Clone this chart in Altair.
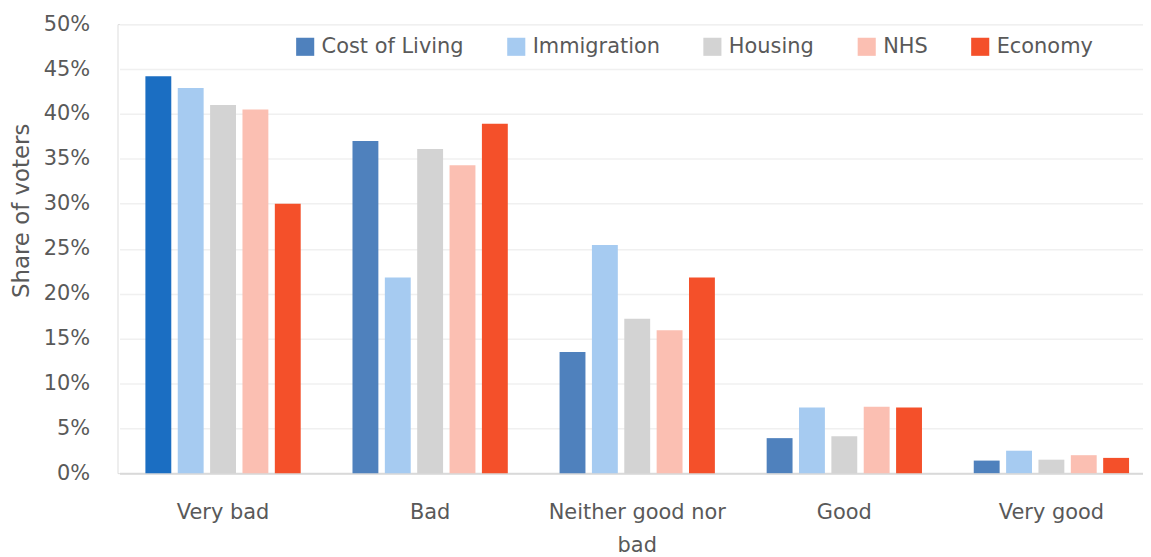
import altair as alt
import pandas as pd

categories = ["Very bad", "Bad", "Neither good nor bad", "Good", "Very good"]
series = ["Cost of Living", "Immigration", "Housing", "NHS", "Economy"]
colors = ["#4F81BD", "#A6CBF1", "#D3D3D3", "#FBBFB2", "#F4502A"]
highlight_color = "#1B6EC2"

cost_of_living = [44.2, 37.0, 13.5, 3.9, 1.4]
immigration = [42.9, 21.8, 25.4, 7.3, 2.5]
housing = [41.0, 36.1, 17.2, 4.1, 1.5]
nhs = [40.5, 34.3, 15.9, 7.4, 2.0]
economy = [30.0, 38.9, 21.8, 7.3, 1.7]

values = [cost_of_living, immigration, housing, nhs, economy]
rows = []
for s, vals in zip(series, values):
    for c, v in zip(categories, vals):
        rows.append({"category": c, "series": s, "value": v / 100})
df = pd.DataFrame(rows)

FONT = "DejaVu Sans"
TXT = "#595959"

bars = alt.Chart(df).mark_bar().encode(
    x=alt.X("category:N", sort=categories,
            scale=alt.Scale(paddingInner=0.25, paddingOuter=0.125, range=[2, 1042]),
            axis=alt.Axis(title=None, labelAngle=0, labelFontSize=21, labelColor=TXT,
                          labelFont=FONT, labelPadding=29, ticks=False,
                          domainColor="#D9D9D9", domainWidth=2, labelLineHeight=33,
                          labelExpr="datum.label == 'Neither good nor bad' ? ['Neither good nor', 'bad'] : datum.label")),
    xOffset=alt.XOffset("series:N", sort=series, scale=alt.Scale(paddingInner=0.2)),
    y=alt.Y("value:Q", scale=alt.Scale(domain=[0, 0.5]),
            axis=alt.Axis(title="Share of voters", format=".0%", values=[i * 0.05 for i in range(11)],
                          labelFontSize=21, labelColor=TXT, labelFont=FONT, labelPadding=28,
                          titleFontSize=23, titleColor=TXT, titleFont=FONT, titleFontWeight="normal",
                          titleAngle=270, titleX=-96, titleY=187, titleAlign="center",
                          titleBaseline="middle", ticks=False, domain=False,
                          gridColor="#F0F0F0", gridWidth=1.5)),
    color=alt.condition(
        "datum.category == 'Very bad' && datum.series == 'Cost of Living'",
        alt.value(highlight_color),
        alt.Color("series:N", sort=series,
                  scale=alt.Scale(domain=series, range=colors),
                  legend=alt.Legend(title=None, orient="none", direction="horizontal",
                                    legendX=178, legendY=12, symbolType="square",
                                    symbolSize=330, symbolStrokeWidth=0,
                                    labelFontSize=21, labelColor=TXT, labelFont=FONT,
                                    labelOffset=6, columnPadding=42, labelLimit=300)),
    ),
)

chart = bars.properties(
    width=1030, height=451,
    padding={"left": 110, "top": 15, "right": 0, "bottom": 83},
    autosize=alt.AutoSizeParams(type="none"),
).configure_view(stroke=None).configure(font=FONT)

chart.save("out.html", embed_options={"renderer": "svg", "actions": False})
